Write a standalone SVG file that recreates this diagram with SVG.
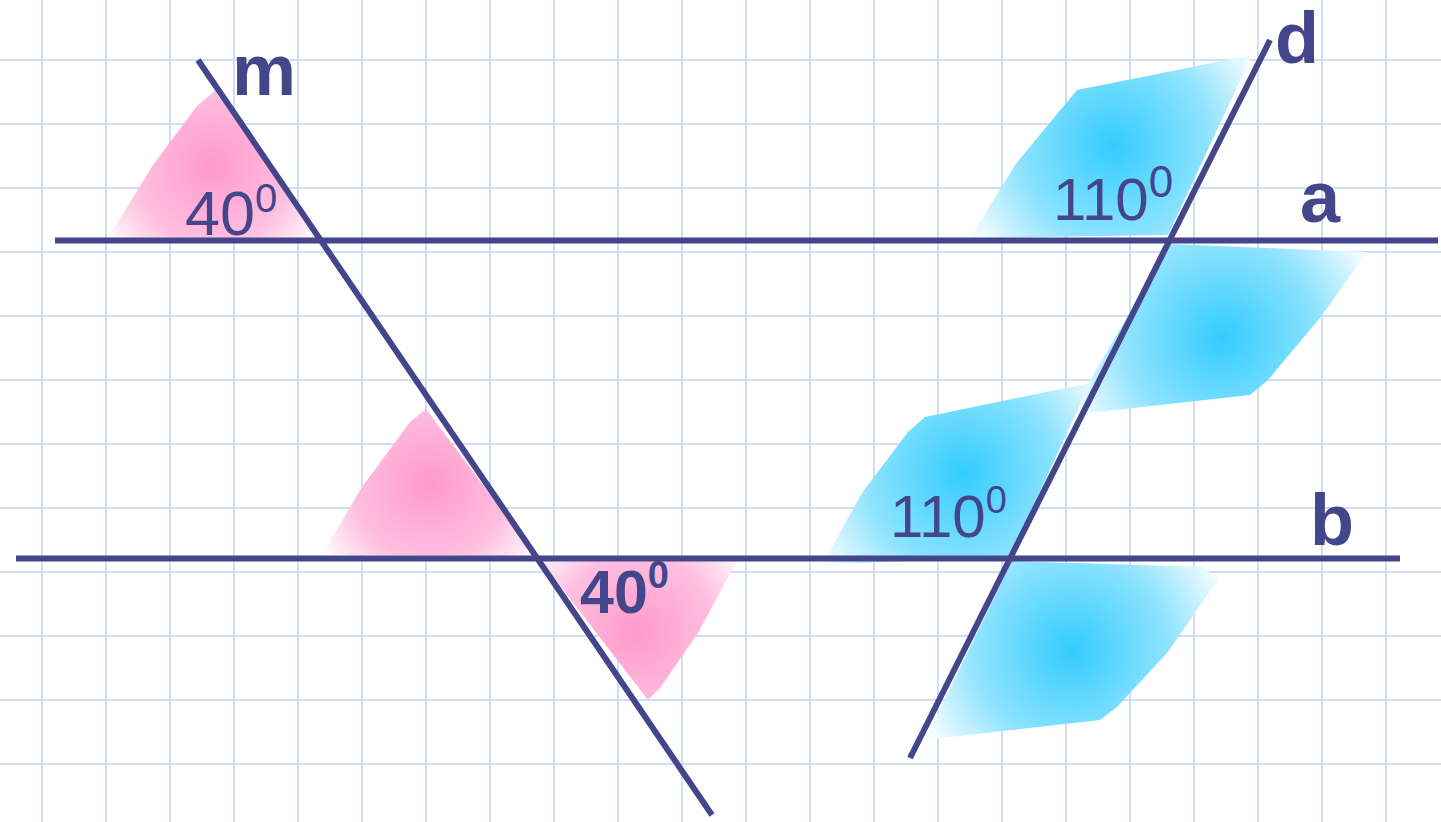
<svg xmlns="http://www.w3.org/2000/svg" xmlns:xlink="http://www.w3.org/1999/xlink" width="1441" height="822" viewBox="0 0 1441 822">
<style>
.grid line{stroke:#d2dcf8;stroke-width:2}
.ln{stroke:#43468a;stroke-width:6;stroke-linecap:butt}
.lbl{font-family:"Liberation Sans",Arial,sans-serif;font-weight:bold;font-size:72px;fill:#43468a}
.num{font-family:"Liberation Sans",Arial,sans-serif;fill:#43468a}
</style>
<defs>
<radialGradient id="pinkBase">
<stop offset="0" stop-color="#ff99cc"/>
<stop offset="0.6" stop-color="#ffbfdf"/>
<stop offset="1" stop-color="#ffffff"/>
</radialGradient>
<radialGradient id="blueBase">
<stop offset="0" stop-color="#33ccff"/>
<stop offset="0.6" stop-color="#8ee3ff"/>
<stop offset="1" stop-color="#f2fbff"/>
</radialGradient>
<radialGradient id="p1" href="#pinkBase" xlink:href="#pinkBase" gradientUnits="userSpaceOnUse" cx="212" cy="165" r="130"/>
<radialGradient id="p2" href="#pinkBase" xlink:href="#pinkBase" gradientUnits="userSpaceOnUse" cx="430" cy="483" r="130"/>
<radialGradient id="p3" href="#pinkBase" xlink:href="#pinkBase" gradientUnits="userSpaceOnUse" cx="637" cy="633" r="130"/>
<radialGradient id="b1" href="#blueBase" xlink:href="#blueBase" gradientUnits="userSpaceOnUse" cx="1113" cy="145" r="160"/>
<radialGradient id="b2" href="#blueBase" xlink:href="#blueBase" gradientUnits="userSpaceOnUse" cx="1223" cy="337" r="160"/>
<radialGradient id="b3" href="#blueBase" xlink:href="#blueBase" gradientUnits="userSpaceOnUse" cx="963" cy="473" r="160"/>
<radialGradient id="b4" href="#blueBase" xlink:href="#blueBase" gradientUnits="userSpaceOnUse" cx="1072" cy="650" r="160"/>
</defs>
<rect width="1441" height="822" fill="#ffffff"/>
<g class="grid">
<line x1="42" y1="0" x2="42" y2="822"/><line x1="106" y1="0" x2="106" y2="822"/><line x1="170" y1="0" x2="170" y2="822"/><line x1="234" y1="0" x2="234" y2="822"/><line x1="298" y1="0" x2="298" y2="822"/><line x1="362" y1="0" x2="362" y2="822"/><line x1="426" y1="0" x2="426" y2="822"/><line x1="490" y1="0" x2="490" y2="822"/><line x1="554" y1="0" x2="554" y2="822"/><line x1="618" y1="0" x2="618" y2="822"/><line x1="682" y1="0" x2="682" y2="822"/><line x1="746" y1="0" x2="746" y2="822"/><line x1="810" y1="0" x2="810" y2="822"/><line x1="874" y1="0" x2="874" y2="822"/><line x1="938" y1="0" x2="938" y2="822"/><line x1="1002" y1="0" x2="1002" y2="822"/><line x1="1066" y1="0" x2="1066" y2="822"/><line x1="1130" y1="0" x2="1130" y2="822"/><line x1="1194" y1="0" x2="1194" y2="822"/><line x1="1258" y1="0" x2="1258" y2="822"/><line x1="1322" y1="0" x2="1322" y2="822"/><line x1="1386" y1="0" x2="1386" y2="822"/>
<line x1="0" y1="60" x2="1441" y2="60"/><line x1="0" y1="124" x2="1441" y2="124"/><line x1="0" y1="188" x2="1441" y2="188"/><line x1="0" y1="252" x2="1441" y2="252"/><line x1="0" y1="316" x2="1441" y2="316"/><line x1="0" y1="380" x2="1441" y2="380"/><line x1="0" y1="444" x2="1441" y2="444"/><line x1="0" y1="508" x2="1441" y2="508"/><line x1="0" y1="572" x2="1441" y2="572"/><line x1="0" y1="636" x2="1441" y2="636"/><line x1="0" y1="700" x2="1441" y2="700"/><line x1="0" y1="764" x2="1441" y2="764"/>
</g>
<g id="angles">
<polygon id="angle-p1" fill="url(#p1)" points="108,238 153,165 197,106 215,91 318,238"/>
<polygon id="angle-p2" fill="url(#p2)" points="322,555 362,487 410,422 426,409 536,556"/>
<polygon id="angle-p3" fill="url(#p3)" points="541,561 737,561 698,633 660,688 648,700"/>
<polygon id="angle-b1" fill="url(#b1)" points="970,238 1015,165 1062,108 1077,90 1252,55 1168,235"/>
<polygon id="angle-b2" fill="url(#b2)" points="1170,244 1367,252 1320,318 1268,380 1250,395 1070,415"/>
<polygon id="angle-b3" fill="url(#b3)" points="822,565 862,493 908,432 925,417 1090,383 1010,556"/>
<polygon id="angle-b4" fill="url(#b4)" points="1012,561 1203,567 1218,580 1167,653 1117,707 1100,720 925,740"/>
</g>
<g id="connectors">
<line id="line-a" class="ln" x1="55" y1="240.5" x2="1438" y2="240.5"/>
<line id="line-b" class="ln" x1="16" y1="558.5" x2="1400" y2="558.5"/>
<line id="line-m" class="ln" x1="198" y1="60" x2="712" y2="815"/>
<line id="line-d" class="ln" x1="1270" y1="40" x2="910" y2="758"/>
</g>
<g id="labels">
<text id="label-m" class="lbl" x="232" y="95">m</text>
<text id="label-d" class="lbl" x="1275" y="63">d</text>
<text id="label-a" class="lbl" x="1300" y="222">a</text>
<text id="label-b" class="lbl" x="1310" y="545">b</text>
</g>
<g id="angle-labels">
<text class="num" x="185" y="235" font-size="63">40<tspan dy="-23" font-size="40">0</tspan></text>
<text class="num" x="580" y="613" font-size="61" font-weight="bold">40<tspan dy="-25" font-size="38">0</tspan></text>
<text class="num" x="1053" y="220" font-size="60">110<tspan dy="-23" font-size="44">0</tspan></text>
<text class="num" x="890" y="537" font-size="60">110<tspan dy="-24" font-size="38">0</tspan></text>
</g>
</svg>
